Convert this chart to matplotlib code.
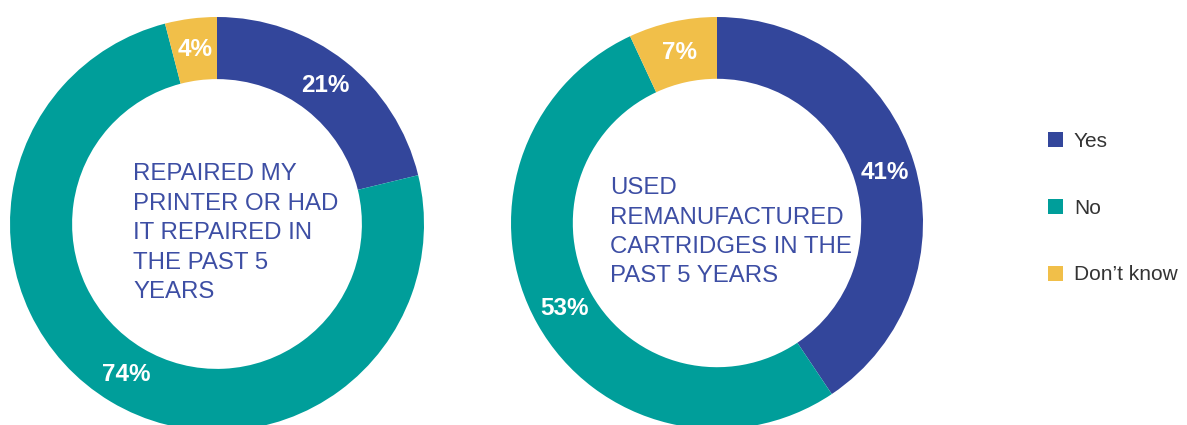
import matplotlib.pyplot as plt
from matplotlib.patches import Patch

plt.rcParams['font.family'] = ['Liberation Sans', 'DejaVu Sans']

# survey answers, clockwise from 12 o'clock
categories = ["Yes", "No", "Don\u2019t know"]
repaired_pct = [21, 74, 4]
cartridges_pct = [41, 53, 7]
repaired_title = ["REPAIRED MY", "PRINTER OR HAD", "IT REPAIRED IN", "THE PAST 5", "YEARS"]
cartridges_title = ["USED", "REMANUFACTURED", "CARTRIDGES IN THE", "PAST 5 YEARS"]

colors = ["#33469b", "#009e9a", "#f1bf49"]
title_color = "#3d4ea4"

W, H = 1187, 425
fig = plt.figure(figsize=(W / 100, H / 100), dpi=100)


def donut(cx, cy, r, values, title, text_x):
    # axes box in pixels -> figure fraction, y measured from top
    ax = fig.add_axes([(cx - r) / W, (H - cy - r) / H, 2 * r / W, 2 * r / H])
    wedges, _, autotexts = ax.pie(
        values, colors=colors, startangle=90, counterclock=False,
        radius=1.0, autopct=lambda p: f"{p * sum(values) / 100:.0f}%",
        pctdistance=0.85, wedgeprops=dict(width=0.30, linewidth=0),
        textprops=dict(color="white", fontsize=17.5, fontweight="bold"))
    ax.set_xlim(-1, 1)
    ax.set_ylim(-1, 1)
    ax.set_aspect("equal")
    ax.axis("off")
    ax.text(text_x, -0.045, "\n".join(title), ha="left", va="center",
            fontsize=17.3, color=title_color, linespacing=1.44)
    return ax


donut(217, 224, 207, repaired_pct, repaired_title, -0.405)
donut(717, 223, 206, cartridges_pct, cartridges_title, -0.52)

handles = [Patch(facecolor=c, edgecolor="none") for c in colors]
fig.legend(handles, categories, loc="center left",
           bbox_to_anchor=(1029 / W, 1 - 208 / H), frameon=False,
           fontsize=15, labelcolor="#333333", handlelength=0.75,
           handleheight=0.75, handletextpad=0.5, labelspacing=2.3)

fig.savefig("out.png", dpi=100)
